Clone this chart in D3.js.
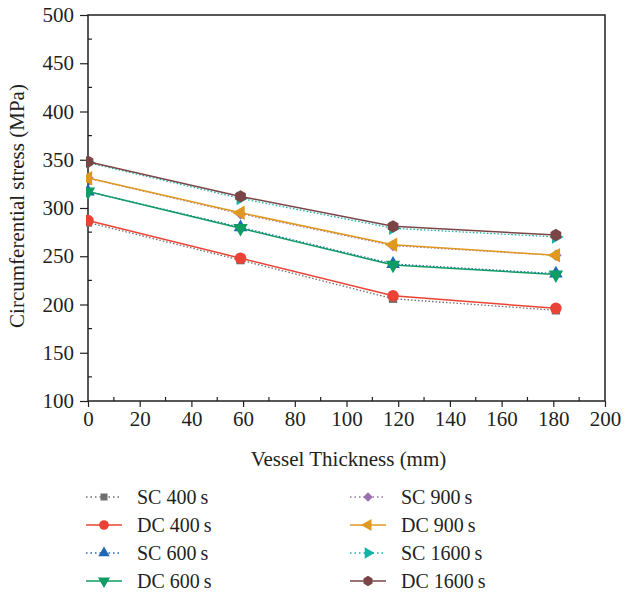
<!DOCTYPE html>
<html>
<head>
<meta charset="utf-8">
<script src="https://cdn.jsdelivr.net/npm/d3@7"></script>
<style>
  body { margin: 0; background: #fff; }
  svg text { font-family: "Liberation Serif", "DejaVu Serif", serif; fill: #231f20; }
</style>
</head>
<body>
<svg id="chart" width="627" height="597"></svg>
<script>
const thickness = [0, 59, 118, 181];

const sc400 = [285, 246, 206, 194];
const dc400 = [287, 248, 209, 196];
const sc600 = [317, 280, 242, 232];
const dc600 = [317, 279, 241, 231];
const sc900 = [331, 294, 261, 251];
const dc900 = [331, 295, 262, 251];
const sc1600 = [347, 310, 279, 270];
const dc1600 = [348, 312, 281, 272];

const seriesNames = ["SC 400\u2009s", "DC 400\u2009s", "SC 600\u2009s", "DC 600\u2009s",
  "SC 900\u2009s", "DC 900\u2009s", "SC 1600\u2009s", "DC 1600\u2009s"];

const xTicks = [0, 20, 40, 60, 80, 100, 120, 140, 160, 180, 200];
const yTicks = [100, 150, 200, 250, 300, 350, 400, 450, 500];

const hexagon = {
  draw(ctx, size) {
    const r = Math.sqrt(size / (1.5 * Math.sqrt(3)));
    for (let i = 0; i < 6; i++) {
      const a = Math.PI / 6 + i * Math.PI / 3;
      const px = r * Math.cos(a), py = r * Math.sin(a);
      if (i === 0) ctx.moveTo(px, py); else ctx.lineTo(px, py);
    }
    ctx.closePath();
  }
};

const series = [
  { name: seriesNames[0], values: sc400, color: "#6d6e71", dotted: true, shape: d3.symbolSquare, rot: 0, size: 70 },
  { name: seriesNames[1], values: dc400, color: "#ea4335", dotted: false, shape: d3.symbolCircle, rot: 0, size: 105 },
  { name: seriesNames[2], values: sc600, color: "#1f68b4", dotted: true, shape: d3.symbolTriangle, rot: 0, size: 80 },
  { name: seriesNames[3], values: dc600, color: "#0f9d64", dotted: false, shape: d3.symbolTriangle, rot: 180, size: 90 },
  { name: seriesNames[4], values: sc900, color: "#9b6fb3", dotted: true, shape: d3.symbolSquare, rot: 45, size: 65 },
  { name: seriesNames[5], values: dc900, color: "#e0991f", dotted: false, shape: d3.symbolTriangle, rot: -90, size: 90 },
  { name: seriesNames[6], values: sc1600, color: "#14b1a9", dotted: true, shape: d3.symbolTriangle, rot: 90, size: 80 },
  { name: seriesNames[7], values: dc1600, color: "#7b4545", dotted: false, shape: hexagon, rot: 0, size: 100 }
];

const margin = { top: 15, right: 22, bottom: 196, left: 88 };
const W = 627, H = 597;
const svg = d3.select("#chart");

const x = d3.scaleLinear().domain([0, 200]).range([margin.left, W - margin.right]);
const y = d3.scaleLinear().domain([100, 500]).range([H - margin.bottom, margin.top]);

const axisColor = "#231f20";
const tickFont = "21px";

// frame
svg.append("rect")
  .attr("x", x(0)).attr("y", y(500))
  .attr("width", x(200) - x(0)).attr("height", y(100) - y(500))
  .attr("fill", "none").attr("stroke", axisColor).attr("stroke-width", 1.5);

// minor ticks (inside)
const minorX = d3.range(10, 200, 20);
const minorY = d3.range(125, 500, 50);
svg.append("g").selectAll("line").data(minorX).join("line")
  .attr("x1", d => x(d)).attr("x2", d => x(d))
  .attr("y1", y(100)).attr("y2", y(100) - 4)
  .attr("stroke", axisColor).attr("stroke-width", 1.2);
svg.append("g").selectAll("line").data(minorY).join("line")
  .attr("x1", x(0)).attr("x2", x(0) + 4)
  .attr("y1", d => y(d)).attr("y2", d => y(d))
  .attr("stroke", axisColor).attr("stroke-width", 1.2);

// x axis
const xAxis = svg.append("g")
  .attr("transform", `translate(0,${y(100)})`)
  .call(d3.axisBottom(x).tickValues(xTicks).tickSize(6).tickPadding(4).tickFormat(d3.format("d")));
xAxis.select(".domain").remove();
xAxis.selectAll(".tick line").attr("stroke", axisColor).attr("stroke-width", 1.2);
xAxis.selectAll(".tick text").style("font-size", tickFont).attr("fill", axisColor);

// y axis
const yAxis = svg.append("g")
  .attr("transform", `translate(${x(0)},0)`)
  .call(d3.axisLeft(y).tickValues(yTicks).tickSize(8).tickPadding(6).tickFormat(d3.format("d")));
yAxis.select(".domain").remove();
yAxis.selectAll(".tick line").attr("stroke", axisColor).attr("stroke-width", 1.2);
yAxis.selectAll(".tick text").style("font-size", tickFont).attr("fill", axisColor);

// axis titles
svg.append("text")
  .attr("x", (x(0) + x(200)) / 2 + 2).attr("y", 466)
  .attr("text-anchor", "middle").style("font-size", "21px")
  .text("Vessel Thickness (mm)");
svg.append("text")
  .attr("transform", `translate(24,${(y(100) + y(500)) / 2 - 2}) rotate(-90)`)
  .attr("text-anchor", "middle").style("font-size", "21px")
  .text("Circumferential stress (MPa)");

// clip
svg.append("clipPath").attr("id", "plotclip")
  .append("rect")
  .attr("x", x(0) - 2).attr("y", y(500))
  .attr("width", x(200) - x(0) + 2).attr("height", y(100) - y(500));

const plot = svg.append("g").attr("clip-path", "url(#plotclip)");

const line = d3.line()
  .x((d, i) => x(thickness[i]))
  .y(d => y(d));

series.forEach(s => {
  const g = plot.append("g");
  g.append("path")
    .datum(s.values)
    .attr("fill", "none")
    .attr("stroke", s.color)
    .attr("stroke-width", s.dotted ? 1.3 : 1.5)
    .attr("stroke-dasharray", s.dotted ? "1.5,2" : null)
    .attr("d", line);
  g.selectAll("path.mk").data(s.values).join("path")
    .attr("class", "mk")
    .attr("d", d3.symbol().type(s.shape).size(s.size))
    .attr("transform", (d, i) => `translate(${x(thickness[i])},${y(d)}) rotate(${s.rot})`)
    .attr("fill", s.color);
});

// legend: left column SC400..DC600, right column SC900..DC1600
const legend = svg.append("g");
series.forEach((s, i) => {
  const col = Math.floor(i / 4);
  const row = i % 4;
  const lx = col === 0 ? 86 : 350;
  const ly = 497 + row * 28;
  const g = legend.append("g").attr("transform", `translate(${lx},${ly})`);
  g.append("line")
    .attr("x1", 0).attr("x2", 36).attr("y1", 0).attr("y2", 0)
    .attr("stroke", s.color).attr("stroke-width", s.dotted ? 1.3 : 1.5)
    .attr("stroke-dasharray", s.dotted ? "1.5,3" : null);
  g.append("path")
    .attr("d", d3.symbol().type(s.shape).size(s.size * 0.7))
    .attr("transform", `translate(18,0) rotate(${s.rot})`)
    .attr("fill", s.color);
  g.append("text")
    .attr("x", 51).attr("y", 0).attr("dy", "0.33em")
    .style("font-size", "20px")
    .text(s.name);
});
</script>
</body>
</html>
